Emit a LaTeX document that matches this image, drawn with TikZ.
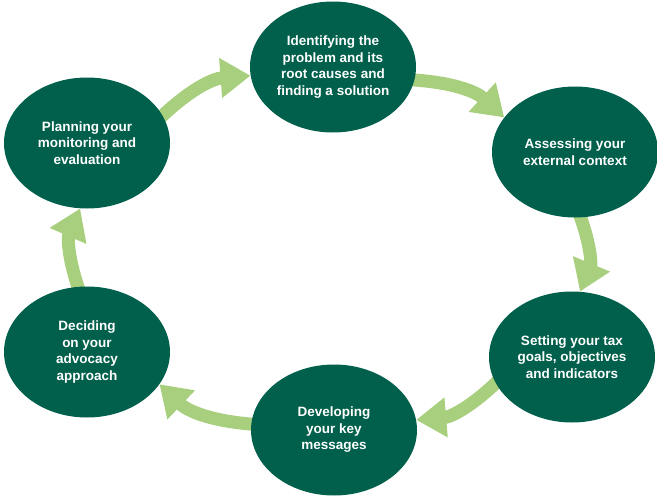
\documentclass[tikz,border=0pt]{standalone}
\usepackage{fontspec}
\setmainfont{Liberation Sans}
\usetikzlibrary{positioning, shapes.geometric, arrows.meta, backgrounds}
\definecolor{darkgreen}{RGB}{0,96,76}
\definecolor{lightgreen}{RGB}{167,207,125}

\begin{document}
\begin{tikzpicture}[x=1pt, y=-1pt,
        stage/.style={ellipse, fill=darkgreen, text=white, inner sep=0pt,
            minimum width=166pt, minimum height=131pt, align=center,
            font=\fontsize{13.5}{16.5}\selectfont\bfseries},
        flow/.style={draw=lightgreen, line width=13pt, shorten <=-8pt,
            -{Triangle[length=30pt, width=38pt]}}]
        \useasboundingbox (0,0) rectangle (657,498);

        \node[stage] (ident) at (333, 67) {Identifying the\\problem and its\\root causes and\\finding a solution};
        \node[stage] (assess) at (575, 152) {Assessing your\\external context};
        \node[stage] (goals) at (572, 357) {Setting your tax\\goals, objectives\\and indicators};
        \node[stage] (msg) at (334, 430) {Developing\\your key\\messages};
        \node[stage] (approach) at (87, 352) {Deciding\\on your\\advocacy\\approach};
        \node[stage] (plan) at (87, 143) {Planning your\\monitoring and\\evaluation};

        \begin{pgfonlayer}{background}
            \draw [flow] (plan.20) to [bend left=20] (ident.186);
            \draw [flow] (ident.351) to [bend left=20] (assess.154);
            \draw [flow] (assess.275) to [bend left=22] (goals.83);
            \draw [flow] (goals.199) to [bend left=20] (msg.7);
            \draw [flow] (msg.176) to [bend left=20] (approach.336);
            \draw [flow] (approach.98) to [bend left=22] (plan.264);
        \end{pgfonlayer}
\end{tikzpicture}
\end{document}
